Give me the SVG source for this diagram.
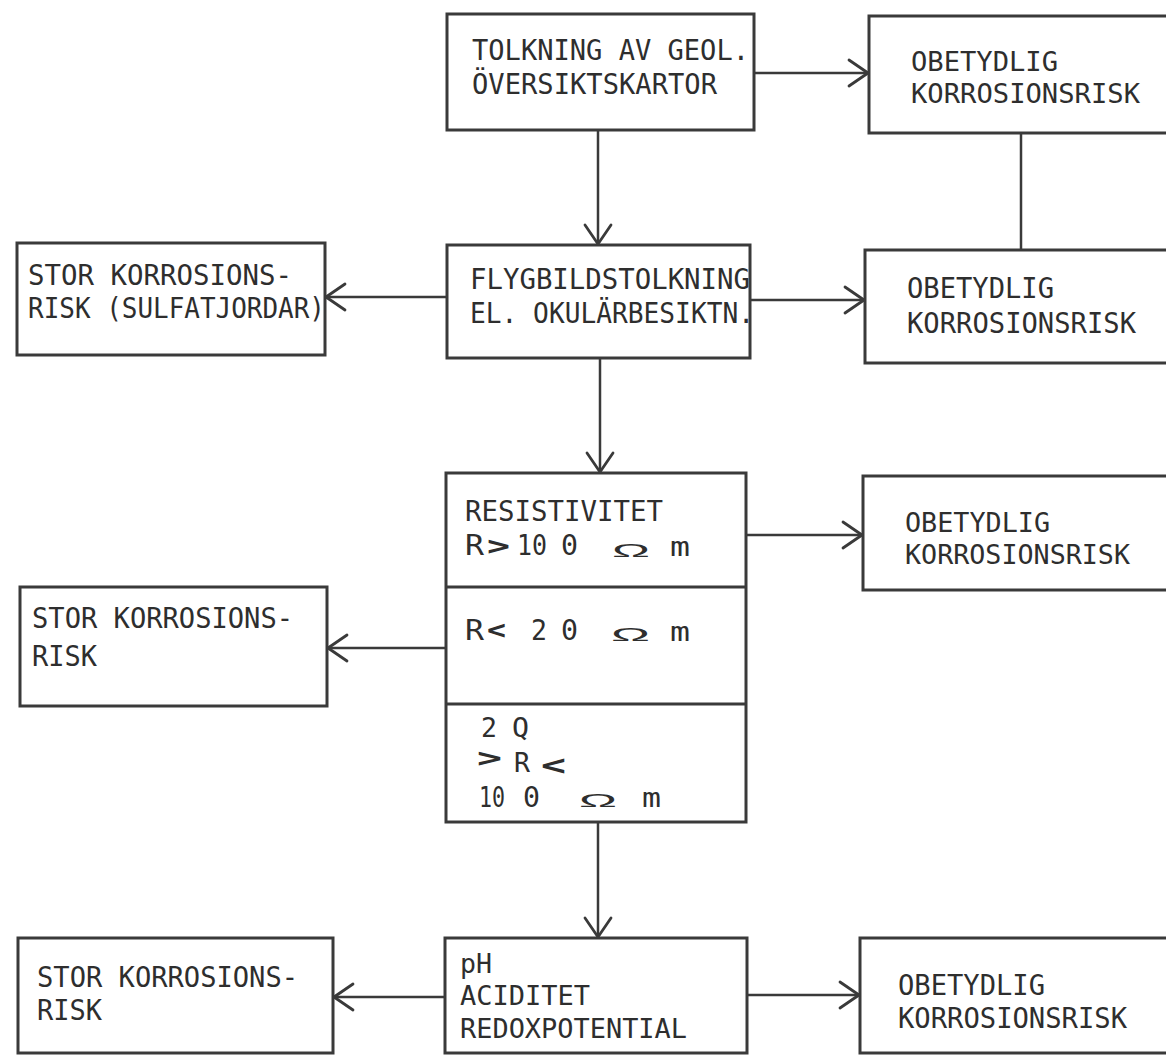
<svg xmlns="http://www.w3.org/2000/svg" width="1166" height="1057" viewBox="0 0 1166 1057">
<defs>
<style>
.box{fill:#fff;stroke:#3a3a3a;stroke-width:3}
.div{stroke:#3a3a3a;stroke-width:3;fill:none}
.con{stroke:#3a3a3a;stroke-width:2.5;fill:none}
.arr{marker-end:url(#v)}
text{font-family:"DejaVu Sans Mono","Liberation Mono",monospace;fill:#2e2e2e}
.sym{font-weight:bold}
.om{font-family:"Liberation Sans","DejaVu Sans",sans-serif}
</style>
<marker id="v" markerUnits="userSpaceOnUse" markerWidth="30" markerHeight="32" viewBox="-24 -16 30 32" refX="0" refY="0" orient="auto" overflow="visible">
<path d="M-19,-13 L0,0 L-19,13" fill="none" stroke="#3a3a3a" stroke-width="2.8" stroke-linecap="round" stroke-linejoin="round"/>
</marker>
</defs>
<rect width="1166" height="1057" fill="#fff"/>

<g id="connectors">
<line class="con arr" x1="754" y1="73" x2="868" y2="73"/>
<line class="con" x1="1021" y1="133" x2="1021" y2="250"/>
<line class="con arr" x1="598" y1="130" x2="598" y2="244"/>
<line class="con arr" x1="447" y1="297" x2="326" y2="297"/>
<line class="con arr" x1="750" y1="300" x2="864" y2="300"/>
<line class="con arr" x1="600" y1="358" x2="600" y2="472"/>
<line class="con arr" x1="746" y1="535" x2="862" y2="535"/>
<line class="con arr" x1="446" y1="648" x2="328" y2="648"/>
<line class="con arr" x1="598" y1="822" x2="598" y2="937"/>
<line class="con arr" x1="445" y1="997" x2="334" y2="997"/>
<line class="con arr" x1="747" y1="995" x2="859" y2="995"/>
</g>

<g id="n-tolkning">
<rect class="box" x="447" y="14" width="307" height="116"/>
<text x="472" y="60" font-size="29" textLength="277" lengthAdjust="spacingAndGlyphs">TOLKNING AV GEOL.</text>
<text x="472" y="94" font-size="29" textLength="245" lengthAdjust="spacingAndGlyphs">ÖVERSIKTSKARTOR</text>
</g>

<g id="n-obetydlig1">
<rect class="box" x="869" y="16" width="320" height="117"/>
<text x="911" y="71" font-size="27" textLength="147" lengthAdjust="spacingAndGlyphs">OBETYDLIG</text>
<text x="911" y="103" font-size="27" textLength="229" lengthAdjust="spacingAndGlyphs">KORROSIONSRISK</text>
</g>

<g id="n-flygbild">
<rect class="box" x="447" y="245" width="303" height="113"/>
<text x="470" y="289" font-size="29" textLength="280" lengthAdjust="spacingAndGlyphs">FLYGBILDSTOLKNING</text>
<text x="470" y="323" font-size="29" textLength="284" lengthAdjust="spacingAndGlyphs">EL. OKULÄRBESIKTN.</text>
</g>

<g id="n-stor1">
<rect class="box" x="17" y="243" width="308" height="112"/>
<text x="28" y="285" font-size="28" textLength="264" lengthAdjust="spacingAndGlyphs">STOR KORROSIONS-</text>
<text x="28" y="318" font-size="28" textLength="297" lengthAdjust="spacingAndGlyphs">RISK (SULFATJORDAR)</text>
</g>

<g id="n-obetydlig2">
<rect class="box" x="865" y="250" width="320" height="113"/>
<text x="907" y="298" font-size="29" textLength="147" lengthAdjust="spacingAndGlyphs">OBETYDLIG</text>
<text x="907" y="333" font-size="29" textLength="229" lengthAdjust="spacingAndGlyphs">KORROSIONSRISK</text>
</g>

<g id="n-resistivitet">
<rect class="box" x="446" y="473" width="300" height="349"/>
<line class="div" x1="446" y1="587" x2="746" y2="587"/>
<line class="div" x1="446" y1="704" x2="746" y2="704"/>
<text x="465" y="521" font-size="28" textLength="198" lengthAdjust="spacingAndGlyphs">RESISTIVITET</text>
<text x="465" y="555" font-size="28" textLength="19" lengthAdjust="spacingAndGlyphs">R</text>
<text class="sym" x="487" y="555" font-size="27" textLength="23" lengthAdjust="spacingAndGlyphs">&gt;</text>
<text x="517" y="555" font-size="28" textLength="30" lengthAdjust="spacingAndGlyphs">10</text>
<text x="561" y="555" font-size="28" textLength="17" lengthAdjust="spacingAndGlyphs">0</text>
<text class="om" x="612" y="557" font-size="19" textLength="38" lengthAdjust="spacingAndGlyphs">Ω</text>
<text x="670" y="556" font-size="27" textLength="20" lengthAdjust="spacingAndGlyphs">m</text>
<text x="465" y="640" font-size="29" textLength="19" lengthAdjust="spacingAndGlyphs">R</text>
<text class="sym" x="487" y="639" font-size="27" textLength="19" lengthAdjust="spacingAndGlyphs">&lt;</text>
<text x="531" y="640" font-size="29" textLength="16" lengthAdjust="spacingAndGlyphs">2</text>
<text x="561" y="640" font-size="29" textLength="17" lengthAdjust="spacingAndGlyphs">0</text>
<text class="om" x="611" y="641" font-size="19" textLength="39" lengthAdjust="spacingAndGlyphs">Ω</text>
<text x="670" y="641" font-size="27" textLength="20" lengthAdjust="spacingAndGlyphs">m</text>
<text x="481" y="737" font-size="26" textLength="16" lengthAdjust="spacingAndGlyphs">2</text>
<text x="512" y="737" font-size="26" textLength="17" lengthAdjust="spacingAndGlyphs">Q</text>
<text x="477" y="772" font-size="26"><tspan class="sym" font-size="26" textLength="25" lengthAdjust="spacingAndGlyphs" dy="-5">&gt;</tspan><tspan x="514" dy="5" textLength="16" lengthAdjust="spacingAndGlyphs">R</tspan><tspan class="sym" x="541" font-size="28" dy="3" textLength="25" lengthAdjust="spacingAndGlyphs">&lt;</tspan></text>
<text x="479" y="807" font-size="28" textLength="26" lengthAdjust="spacingAndGlyphs">10</text>
<text x="523" y="807" font-size="28" textLength="17" lengthAdjust="spacingAndGlyphs">0</text>
<text class="om" x="579" y="807" font-size="19" textLength="38" lengthAdjust="spacingAndGlyphs">Ω</text>
<text x="642" y="807" font-size="27" textLength="19" lengthAdjust="spacingAndGlyphs">m</text>
</g>

<g id="n-obetydlig3">
<rect class="box" x="863" y="476" width="320" height="114"/>
<text x="905" y="532" font-size="27" textLength="145" lengthAdjust="spacingAndGlyphs">OBETYDLIG</text>
<text x="905" y="564" font-size="27" textLength="225" lengthAdjust="spacingAndGlyphs">KORROSIONSRISK</text>
</g>

<g id="n-stor2">
<rect class="box" x="20" y="587" width="307" height="119"/>
<text x="32" y="628" font-size="28" textLength="261" lengthAdjust="spacingAndGlyphs">STOR KORROSIONS-</text>
<text x="32" y="666" font-size="28" textLength="65" lengthAdjust="spacingAndGlyphs">RISK</text>
</g>

<g id="n-ph">
<rect class="box" x="445" y="938" width="302" height="115"/>
<text x="460" y="973" font-size="27" textLength="32" lengthAdjust="spacingAndGlyphs">pH</text>
<text x="460" y="1005" font-size="27" textLength="130" lengthAdjust="spacingAndGlyphs">ACIDITET</text>
<text x="460" y="1038" font-size="27" textLength="227" lengthAdjust="spacingAndGlyphs">REDOXPOTENTIAL</text>
</g>

<g id="n-stor3">
<rect class="box" x="18" y="938" width="315" height="115"/>
<text x="37" y="987" font-size="28" textLength="261" lengthAdjust="spacingAndGlyphs">STOR KORROSIONS-</text>
<text x="37" y="1020" font-size="28" textLength="65" lengthAdjust="spacingAndGlyphs">RISK</text>
</g>

<g id="n-obetydlig4">
<rect class="box" x="860" y="938" width="325" height="115"/>
<text x="898" y="995" font-size="28" textLength="147" lengthAdjust="spacingAndGlyphs">OBETYDLIG</text>
<text x="898" y="1028" font-size="28" textLength="229" lengthAdjust="spacingAndGlyphs">KORROSIONSRISK</text>
</g>
</svg>
